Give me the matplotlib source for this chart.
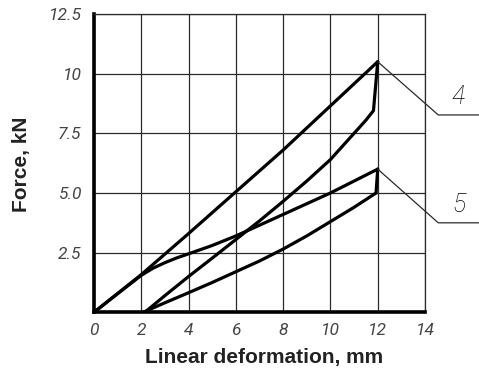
import matplotlib
matplotlib.use("Agg")
import matplotlib.pyplot as plt

# ---- data ----
c4_load_x = [0, 1, 2, 4, 6, 8, 10, 12]
c4_load_y = [0, 0.79, 1.58, 3.3, 5.05, 6.8, 8.65, 10.5]
c4_unload_x = [12, 11.82, 11.5, 11, 10, 9, 8, 7, 6, 5, 4, 3, 2.15]
c4_unload_y = [10.5, 8.45, 8.05, 7.5, 6.4, 5.5, 4.65, 3.83, 3.05, 2.27, 1.5, 0.7, 0]

c5_load_x = [0, 1, 2, 2.5, 3, 3.5, 4, 5, 6, 8, 10, 12]
c5_load_y = [0, 0.78, 1.55, 1.85, 2.08, 2.28, 2.45, 2.8, 3.2, 4.1, 5.0, 6.0]
c5_unload_x = [12, 11.93, 11, 10, 9, 8, 7, 6, 5, 4, 3, 2.08]
c5_unload_y = [6.0, 5.0, 4.4, 3.8, 3.2, 2.65, 2.15, 1.7, 1.25, 0.82, 0.4, 0]

x_ticks = [0, 2, 4, 6, 8, 10, 12, 14]
x_tick_labels = ["0", "2", "4", "6", "8", "10", "12", "14"]
y_ticks = [2.5, 5.0, 7.5, 10, 12.5]
y_tick_labels = ["2.5", "5.0", "7.5", "10", "12.5"]
curve_labels = ["4", "5"]

# ---- fonts ----
tick_family = ["Roboto", "DejaVu Sans"]
label_family = ["Liberation Sans", "DejaVu Sans"]
tick_kw = dict(fontfamily=tick_family, fontstyle="italic", fontweight="normal")
big_kw = dict(fontfamily=tick_family, fontstyle="italic", fontweight="light")

fig = plt.figure(figsize=(4.79, 3.71), dpi=100)
ax = fig.add_axes([94 / 479, 1 - 312.3 / 371, (425 - 94) / 479, (312.3 - 14) / 371])

ax.set_xlim(0, 14)
ax.set_ylim(0, 12.5)

grid_color = "#2a2a2a"
ax.set_xticks(x_ticks)
ax.set_yticks(y_ticks)
ax.grid(True, color=grid_color, linewidth=0.9)
ax.set_axisbelow(True)

ax.set_xticklabels(x_tick_labels, fontsize=12.5, color="#444444", **tick_kw)
ax.set_yticklabels(y_tick_labels, fontsize=12.5, color="#444444", **tick_kw)
ax.tick_params(axis="both", length=0)
ax.tick_params(axis="x", pad=8)
ax.tick_params(axis="y", pad=9)

for side in ("top", "right"):
    ax.spines[side].set_linewidth(0.9)
    ax.spines[side].set_color(grid_color)
for side in ("left", "bottom"):
    ax.spines[side].set_linewidth(2.6)
    ax.spines[side].set_color("black")

lw = 2.3
for xs, ys in ((c4_load_x, c4_load_y), (c4_unload_x, c4_unload_y),
               (c5_load_x, c5_load_y), (c5_unload_x, c5_unload_y)):
    ax.plot(xs, ys, color="black", lw=lw, solid_joinstyle="round", solid_capstyle="round")

# leader lines and curve labels
peaks = [(c4_load_x[-1], c4_load_y[-1]), (c5_load_x[-1], c5_load_y[-1])]
elbows_y = [8.27, 3.75]
for (px, py), ey, lab in zip(peaks, elbows_y, curve_labels):
    ax.plot([px, 14.56, 16.4], [py, ey, ey], color=grid_color, lw=0.9, clip_on=False)
    ax.text(15.42, ey + 0.75, lab, fontsize=18, color="black", ha="center",
            va="center", clip_on=False, **big_kw)

fig.text(264 / 479, 1 - 358 / 371, "Linear deformation, mm", fontfamily=label_family,
         fontweight="bold", fontsize=15, color="#222222", ha="center", va="center")
fig.text(22 / 479, 1 - 164 / 371, "Force, kN", fontfamily=label_family, rotation=90,
         fontweight="bold", fontsize=15, color="#222222", ha="center", va="center")

fig.savefig("out.png", dpi=100)
